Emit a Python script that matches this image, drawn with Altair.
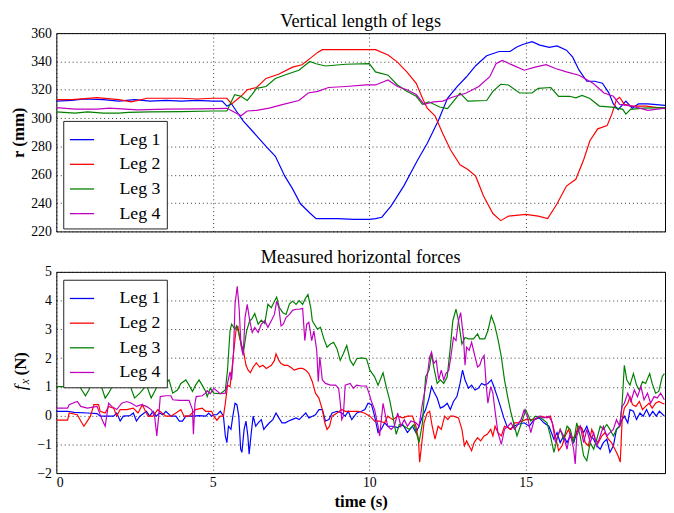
import altair as alt
import pandas as pd

FONT = "Liberation Serif"
LEGS = ["Leg 1", "Leg 2", "Leg 3", "Leg 4"]
COLORS = ["#0000ff", "#ff0000", "#008000", "#bf00bf"]
X_TICKS = [0, 5, 10, 15]
R_TICKS = [220, 240, 260, 280, 300, 320, 340, 360]
F_TICKS = [-2, -1, 0, 1, 2, 3, 4, 5]

# ---- vertical leg length r (mm): (time s, value) ----
R_LEG1 = [(0, 312), (0.5, 312.5), (0.9, 313.5), (1.5, 313), (2.0, 312), (2.5, 313), (3.0, 312),
          (3.5, 312.5), (4.0, 312), (4.5, 312.5), (5.0, 312), (5.3, 312), (5.45, 308.5), (5.6, 310),
          (5.75, 305), (5.97, 298), (6.3, 290), (6.7, 280), (7.0, 273), (7.3, 259), (7.55, 250),
          (7.8, 239.5), (8.1, 233), (8.3, 229), (9.0, 229), (9.5, 228.5), (10.0, 228.5), (10.2, 229),
          (10.4, 230), (10.7, 238), (11.1, 252), (11.55, 270.6), (11.85, 282), (12.2, 298), (12.5, 314),
          (12.8, 322), (13.1, 329), (13.4, 337), (13.75, 344), (14.15, 347), (14.5, 347), (14.7, 350),
          (14.9, 352), (15.2, 354), (15.45, 351.5), (15.75, 350), (16.0, 351), (16.3, 348), (16.5, 343),
          (16.7, 334), (16.95, 326), (17.2, 326), (17.45, 324.6), (17.65, 318), (17.8, 310), (17.95, 306),
          (18.2, 312), (18.4, 307), (18.6, 310), (18.9, 310), (19.45, 309)]
R_LEG2 = [(0, 313), (0.5, 313), (1.3, 314.5), (2.0, 313), (2.4, 311.5), (2.9, 314), (3.5, 314),
          (4.0, 314), (4.5, 313.5), (5.0, 314), (5.45, 314), (5.6, 310), (5.9, 315.4), (6.1, 320),
          (6.4, 321.6), (6.7, 328), (7.1, 331), (7.55, 336), (7.85, 337.7), (8.1, 342), (8.35, 346.4),
          (8.5, 348.3), (9.5, 348.3), (10.2, 348.3), (10.6, 344.6), (10.9, 339.5), (11.2, 332.6),
          (11.5, 324.6), (11.7, 314), (11.85, 307), (12.1, 301.6), (12.35, 289), (12.6, 277.5),
          (12.9, 267), (13.15, 263.7), (13.4, 259), (13.65, 245), (13.95, 232.6), (14.2, 227.6),
          (14.45, 230.8), (15.0, 232), (15.4, 230.8), (15.7, 229), (16.0, 239.5), (16.3, 252),
          (16.6, 256.8), (16.85, 270.6), (17.05, 284), (17.3, 292.4), (17.6, 294.7), (17.75, 302.8),
          (17.9, 313), (18.0, 314.7), (18.15, 309.7), (18.4, 308.5), (18.85, 308.5), (19.45, 306.7)]
R_LEG3 = [(0, 304.4), (0.6, 303.5), (1.0, 304.4), (1.5, 303.5), (2.0, 303.5), (2.3, 304), (3.0, 304.4),
          (4.0, 304.6), (5.0, 305), (5.45, 305), (5.6, 312), (5.7, 316.6), (5.9, 315.4), (6.1, 312.4),
          (6.25, 316.6), (6.4, 321), (6.7, 322.3), (7.0, 328), (7.35, 330.8), (7.75, 333.8), (8.1, 340),
          (8.3, 338.4), (8.6, 336.8), (9.25, 338), (10.0, 338.4), (10.2, 332.6), (10.6, 330.3),
          (10.9, 323.4), (11.2, 318.9), (11.5, 315.4), (11.7, 309.7), (11.9, 311.5), (12.25, 307.8),
          (12.5, 306.7), (12.65, 310.8), (12.9, 317.7), (13.15, 312), (13.75, 312.4), (13.95, 318.9),
          (14.2, 323.9), (14.45, 323.4), (14.8, 317.7), (15.2, 317.7), (15.4, 321), (15.8, 321.6),
          (16.05, 315.4), (16.4, 315.4), (16.6, 314.3), (16.8, 316), (17.05, 313.8), (17.35, 308.5),
          (17.75, 307.8), (18.1, 306.2), (18.2, 302.8), (18.35, 306.2), (18.75, 307), (19.45, 307.4)]
R_LEG4 = [(0, 307.4), (0.6, 306.3), (1.3, 306.3), (1.7, 307), (2.6, 305.8), (3.5, 306.3), (4.5, 306.5),
          (5.45, 306.9), (5.65, 304.6), (5.9, 301.6), (6.1, 305), (6.4, 305.5), (6.8, 307), (7.25, 309.7),
          (7.75, 312.4), (8.05, 317.7), (8.35, 318.9), (8.7, 321.6), (9.25, 322.3), (9.9, 323.4),
          (10.2, 323.4), (10.6, 326.9), (10.9, 322.3), (11.2, 320), (11.5, 316.6), (11.75, 309.7),
          (12.05, 311.5), (12.35, 312), (12.65, 314.7), (13.1, 317.7), (13.5, 322.3), (13.85, 329.2),
          (14.05, 338.4), (14.25, 340.7), (14.6, 337.2), (14.95, 333.8), (15.3, 336), (15.65, 337.7),
          (15.95, 335), (16.3, 332.6), (16.7, 330.3), (17.15, 324.6), (17.5, 317.7), (17.8, 315.4),
          (18.0, 309.7), (18.4, 308.5), (18.9, 305.5), (19.45, 307)]

# ---- horizontal force f_x (N): (time s, value) ----
F_LEG1 = [(0, 0.15), (0.36, 0.15), (0.57, 0.11), (0.99, 0.09), (1.3, 0.07), (1.4, -0.02), (1.51, -0.02),
          (1.62, -0.02), (1.83, -0.02), (1.93, 0.09), (2.04, -0.19), (2.14, -0.02), (2.35, 0.0), (2.46, 0.09),
          (2.56, -0.19), (2.67, -0.02), (2.88, 0.15), (2.98, -0.02), (3.09, 0.15), (3.19, -0.02), (3.3, 0.09),
          (3.4, 0.03), (3.5, 0.15), (3.66, -0.02), (3.82, -0.02), (3.93, -0.19), (4.03, -0.19), (4.14, -0.02),
          (4.35, -0.02), (4.56, 0.0), (4.77, -0.02), (4.87, 0.09), (4.96, -0.02), (5.03, 0.03), (5.13, 0.03),
          (5.24, 0.15), (5.34, -0.02), (5.4, -0.71), (5.45, -0.94), (5.5, -0.37), (5.58, -0.48), (5.64, -0.02),
          (5.71, 0.43), (5.77, 0.38), (5.83, -0.02), (5.89, -1.17), (5.93, -1.28), (6.0, -0.48), (6.06, -0.19),
          (6.12, -0.71), (6.16, -1.34), (6.23, -0.59), (6.29, -0.02), (6.37, -0.37), (6.45, -0.25), (6.55, -0.14),
          (6.63, -0.48), (6.71, -0.37), (6.81, -0.25), (6.92, -0.14), (7.02, 0.09), (7.11, -0.08), (7.21, -0.25),
          (7.32, -0.25), (7.42, -0.19), (7.53, -0.14), (7.66, -0.08), (7.76, -0.14), (7.87, -0.02), (7.97, 0.09),
          (8.07, -0.08), (8.18, -0.02), (8.28, 0.03), (8.39, 0.21), (8.5, 0.21), (8.6, -0.19), (8.71, -0.14),
          (8.81, 0.09), (8.97, 0.15), (9.12, 0.09), (9.23, -0.02), (9.33, 0.15), (9.44, -0.14), (9.6, 0.09),
          (9.75, 0.15), (9.86, 0.21), (9.96, 0.43), (10.07, 0.38), (10.17, -0.02), (10.28, -0.59), (10.38, -0.48),
          (10.49, -0.25), (10.59, -0.37), (10.75, -0.37), (10.91, -0.42), (11.07, -0.31), (11.22, -0.59),
          (11.38, -0.37), (11.49, -0.59), (11.59, -0.37), (11.7, -0.02), (11.8, 0.21), (11.91, 0.61), (11.99, 1.01),
          (12.06, 0.84), (12.17, 0.61), (12.27, 0.26), (12.38, 0.32), (12.49, 0.43), (12.59, 0.21), (12.69, 0.49),
          (12.8, 0.66), (12.9, 1.12), (12.98, 1.58), (13.06, 1.24), (13.17, 0.95), (13.27, 1.06), (13.38, 0.89),
          (13.48, 0.95), (13.59, 1.12), (13.69, 1.06), (13.79, 1.12), (13.9, 1.24), (13.98, 1.01), (14.09, 0.66),
          (14.19, 0.32), (14.3, -0.08), (14.4, -0.37), (14.51, -0.48), (14.61, -0.37), (14.74, -0.31),
          (14.95, -0.25), (15.11, -0.37), (15.27, -0.14), (15.43, -0.08), (15.58, -0.25), (15.74, -0.37),
          (15.9, -0.82), (16.0, -0.59), (16.1, -0.94), (16.21, -0.71), (16.32, -0.94), (16.42, -0.71),
          (16.53, -0.94), (16.63, -0.59), (16.74, -0.37), (16.85, -0.59), (16.95, -0.37), (17.06, -0.71),
          (17.17, -0.82), (17.27, -1.05), (17.38, -1.17), (17.48, -0.94), (17.59, -0.82), (17.69, -1.28),
          (17.8, -1.05), (17.9, -0.48), (18.0, -0.37), (18.08, -0.14), (18.15, -0.02), (18.26, -0.25),
          (18.33, 0.21), (18.44, 0.15), (18.54, -0.14), (18.65, 0.09), (18.75, -0.02), (18.86, 0.21),
          (18.96, -0.02), (19.06, 0.15), (19.17, -0.02), (19.27, 0.15), (19.43, -0.02)]
F_LEG2 = [(0, -0.16), (0.36, -0.16), (0.41, 0.09), (0.67, 0.03), (0.78, -0.19), (0.88, -0.37), (0.99, -0.19),
          (1.09, -0.02), (1.2, 0.38), (1.35, 0.38), (1.4, 0.15), (1.56, 0.09), (1.67, 0.32), (1.83, 0.26),
          (1.93, -0.02), (2.04, 0.21), (2.25, 0.21), (2.46, 0.26), (2.61, 0.09), (2.75, 0.38), (2.82, 0.21),
          (2.93, -0.02), (3.09, -0.02), (3.24, 0.21), (3.5, -0.02), (3.66, -0.02), (3.82, 0.09), (3.98, 0.21),
          (4.08, -0.02), (4.24, -0.02), (4.45, 0.21), (4.66, 0.26), (4.77, 0.15), (4.96, 0.15), (5.03, -0.02),
          (5.13, -0.16), (5.24, -0.02), (5.34, -0.02), (5.4, 0.43), (5.47, 1.06), (5.55, 1.01), (5.6, 1.46),
          (5.66, 2.15), (5.74, 2.95), (5.8, 3.12), (5.85, 2.72), (5.92, 2.44), (5.97, 2.32), (6.06, 1.75),
          (6.13, 1.58), (6.2, 1.49), (6.29, 1.69), (6.39, 1.83), (6.5, 1.69), (6.6, 1.75), (6.71, 1.64),
          (6.87, 1.75), (6.97, 1.92), (7.02, 2.15), (7.11, 1.92), (7.18, 1.81), (7.29, 1.75), (7.39, 1.75),
          (7.5, 1.67), (7.6, 1.58), (7.76, 1.64), (7.87, 1.64), (7.97, 1.58), (8.07, 1.46), (8.18, 1.18),
          (8.28, 0.78), (8.39, 0.61), (8.5, 0.21), (8.58, -0.25), (8.65, -0.48), (8.73, -0.37), (8.81, -0.02),
          (8.97, 0.09), (9.12, 0.21), (9.23, 0.15), (9.44, 0.15), (9.65, 0.15), (9.84, 0.09), (10.02, -0.02),
          (10.17, -0.19), (10.33, -0.19), (10.49, -0.25), (10.59, -0.02), (10.75, -0.14), (10.91, -0.02),
          (11.07, -0.08), (11.22, -0.02), (11.38, -0.02), (11.49, -0.37), (11.57, -0.82), (11.61, -1.62),
          (11.68, -0.94), (11.75, -0.25), (11.85, 0.09), (11.93, 0.15), (12.01, -0.37), (12.1, -0.82),
          (12.2, -0.37), (12.3, -0.48), (12.41, -0.02), (12.51, -0.14), (12.59, -0.02), (12.69, -0.02),
          (12.85, -0.08), (12.96, -0.48), (13.04, -1.05), (13.11, -0.88), (13.19, -1.05), (13.27, -1.22),
          (13.35, -0.94), (13.46, -0.77), (13.56, -0.88), (13.67, -0.71), (13.77, -0.65), (13.88, -0.48),
          (13.95, -0.71), (14.02, -0.37), (14.11, -0.59), (14.22, -0.71), (14.32, -0.37), (14.43, -0.42),
          (14.53, -0.48), (14.64, -0.25), (14.74, -0.25), (15.0, -0.14), (15.27, -0.14), (15.48, -0.02),
          (15.68, -0.08), (15.79, -0.02), (15.9, -0.48), (16.05, -1.22), (16.16, -1.05), (16.26, -0.71),
          (16.37, -0.48), (16.47, -0.82), (16.58, -0.71), (16.68, -0.37), (16.79, -0.42), (16.9, -0.94),
          (17.0, -1.05), (17.11, -0.48), (17.22, -0.82), (17.32, -0.94), (17.43, -0.71), (17.53, -0.59),
          (17.64, -0.82), (17.74, -0.94), (17.85, -1.17), (17.95, -1.4), (18.02, -1.62), (18.08, -0.14),
          (18.15, 0.26), (18.26, 0.43), (18.33, 0.66), (18.41, 0.38), (18.52, 0.32), (18.63, 0.49),
          (18.73, 0.21), (18.83, 0.32), (18.94, 0.43), (19.04, 0.26), (19.15, 0.43), (19.25, 0.49),
          (19.36, 0.43), (19.43, 0.41)]
F_LEG3 = [(0, 1.01), (0.36, 1.01), (0.45, 1.15), (0.6, 1.2), (0.78, 0.95), (0.93, 0.69), (1.04, 0.89),
          (1.14, 1.15), (1.3, 1.2), (1.46, 0.95), (1.56, 0.61), (1.67, 0.78), (1.83, 1.1), (1.93, 1.12),
          (2.1, 1.2), (2.35, 1.06), (2.5, 0.61), (2.67, 0.78), (2.88, 1.06), (3.03, 0.61), (3.14, 0.84),
          (3.24, 1.06), (3.5, 1.14), (3.6, 1.24), (3.72, 0.78), (3.87, 0.89), (3.98, 1.12), (4.14, 1.24),
          (4.24, 1.06), (4.35, 0.84), (4.45, 1.06), (4.56, 1.24), (4.66, 1.06), (4.77, 0.84), (4.82, 0.66),
          (4.92, 0.95), (5.03, 0.78), (5.24, 0.76), (5.4, 0.89), (5.47, 1.58), (5.55, 2.95), (5.6, 3.18),
          (5.71, 3.01), (5.76, 3.12), (5.87, 2.72), (5.97, 2.15), (6.08, 2.95), (6.18, 3.3), (6.24, 3.35),
          (6.34, 3.55), (6.45, 3.18), (6.55, 3.32), (6.66, 3.2), (6.76, 3.87), (6.87, 3.75), (6.97, 3.98),
          (7.04, 4.12), (7.13, 3.75), (7.24, 3.58), (7.34, 3.52), (7.45, 3.89), (7.55, 3.98), (7.66, 3.87),
          (7.76, 4.0), (7.87, 3.87), (7.97, 4.1), (8.04, 4.21), (8.13, 3.75), (8.18, 3.3), (8.34, 3.01),
          (8.44, 3.07), (8.55, 2.67), (8.65, 2.38), (8.76, 2.49), (8.86, 2.55), (8.97, 2.32), (9.07, 1.92),
          (9.17, 2.15), (9.28, 2.44), (9.39, 1.92), (9.49, 1.75), (9.6, 1.98), (9.75, 2.01), (9.91, 1.98),
          (10.02, 1.58), (10.17, 1.35), (10.28, 1.06), (10.44, 1.49), (10.54, 1.01), (10.65, 0.55),
          (10.75, 0.0), (10.86, -0.65), (10.96, -0.31), (11.12, -0.37), (11.28, -0.48), (11.43, -0.31),
          (11.59, -0.94), (11.7, -0.25), (11.8, 1.35), (11.91, 1.58), (11.99, 2.15), (12.06, 1.69),
          (12.17, 1.12), (12.27, 1.24), (12.38, 1.12), (12.49, 1.35), (12.59, 2.38), (12.67, 3.3),
          (12.77, 3.7), (12.85, 3.3), (12.96, 2.49), (13.06, 2.72), (13.17, 2.67), (13.33, 2.67),
          (13.46, 2.84), (13.53, 2.67), (13.69, 2.67), (13.79, 2.95), (13.9, 3.47), (14.0, 3.18),
          (14.11, 2.67), (14.22, 2.04), (14.32, 1.24), (14.43, 0.61), (14.53, 0.09), (14.64, -0.37),
          (14.72, -0.71), (14.85, -0.3), (15.0, 0.2), (15.16, -0.19), (15.32, -0.02), (15.48, -0.08),
          (15.68, -0.25), (15.79, -0.71), (15.9, -1.28), (16.0, -0.82), (16.1, -0.48), (16.21, -0.82),
          (16.32, -0.37), (16.42, -0.48), (16.53, -0.94), (16.63, -0.25), (16.74, -0.71), (16.85, -1.4),
          (16.95, -1.57), (17.06, -0.94), (17.17, -1.17), (17.27, -0.82), (17.38, -0.37), (17.48, -0.48),
          (17.59, -0.31), (17.69, -0.48), (17.8, -0.71), (17.9, -0.48), (18.0, -0.37), (18.08, 0.43),
          (18.15, 1.75), (18.23, 1.24), (18.33, 1.06), (18.44, 1.46), (18.54, 1.06), (18.63, 0.89),
          (18.73, 1.18), (18.83, 1.12), (18.96, 1.46), (19.04, 1.12), (19.15, 0.78), (19.25, 0.84),
          (19.36, 1.35), (19.43, 1.46)]
F_LEG4 = [(0, 0.26), (0.36, 0.26), (0.41, 0.38), (0.52, 0.43), (0.67, 0.49), (0.78, 0.32), (0.99, 0.26),
          (1.3, 0.32), (1.46, -0.14), (1.56, -0.37), (1.67, 0.43), (1.77, 0.32), (1.93, 0.21), (2.09, 0.43),
          (2.25, 0.49), (2.4, 0.43), (2.56, 0.32), (2.72, 0.38), (2.88, 0.32), (3.03, 0.21), (3.14, -0.02),
          (3.21, -0.71), (3.28, 0.09), (3.32, 0.66), (3.5, 0.69), (3.66, 0.69), (3.72, 0.55), (3.93, 0.53),
          (4.24, 0.53), (4.35, 0.21), (4.38, -0.65), (4.43, 0.43), (4.47, 0.66), (4.66, 0.69), (4.77, 0.78),
          (4.82, 0.87), (4.92, 0.76), (5.03, 0.95), (5.24, 0.76), (5.4, 0.78), (5.47, 1.12), (5.55, 1.52),
          (5.6, 1.24), (5.66, 2.15), (5.71, 3.87), (5.78, 4.5), (5.84, 3.75), (5.9, 2.44), (5.97, 2.09),
          (6.03, 3.41), (6.1, 3.87), (6.18, 3.3), (6.26, 2.89), (6.34, 3.07), (6.45, 2.89), (6.55, 3.18),
          (6.66, 3.3), (6.76, 3.07), (6.87, 3.3), (6.97, 3.52), (7.04, 3.98), (7.11, 3.75), (7.18, 3.12),
          (7.25, 3.18), (7.34, 3.41), (7.45, 3.52), (7.55, 3.66), (7.66, 3.7), (7.76, 3.7), (7.87, 3.73),
          (7.94, 2.61), (8.0, 3.18), (8.07, 3.24), (8.16, 2.61), (8.23, 2.95), (8.32, 2.27), (8.37, 1.18),
          (8.42, 2.04), (8.5, 1.24), (8.6, 1.12), (8.76, 1.06), (8.92, 1.06), (9.02, 0.95), (9.07, 0.49),
          (9.12, -0.14), (9.17, -0.02), (9.23, 1.06), (9.39, 1.12), (9.49, 0.95), (9.6, 1.06), (9.75, 1.03),
          (9.91, 1.03), (9.99, 0.78), (10.07, 0.49), (10.17, 0.21), (10.28, -0.37), (10.33, -0.71),
          (10.44, 0.43), (10.52, -0.02), (10.59, -0.37), (10.7, -0.48), (10.8, -0.37), (10.91, 0.09),
          (11.01, -0.37), (11.12, -0.14), (11.22, -0.37), (11.33, -0.19), (11.49, -0.25), (11.59, -0.37),
          (11.7, 0.43), (11.78, 0.89), (11.85, 1.35), (11.93, 2.04), (11.99, 2.21), (12.06, 1.81),
          (12.14, 1.92), (12.22, 1.24), (12.3, 1.58), (12.38, 1.24), (12.45, 1.46), (12.54, 1.58),
          (12.62, 2.15), (12.69, 2.72), (12.77, 2.61), (12.85, 3.3), (12.92, 3.58), (13.01, 2.72),
          (13.06, 1.75), (13.11, 2.38), (13.19, 2.27), (13.27, 2.55), (13.38, 2.04), (13.46, 1.69),
          (13.53, 1.75), (13.6, 1.98), (13.67, 2.09), (13.74, 1.01), (13.79, 0.43), (13.88, 1.01),
          (13.95, 0.78), (14.0, 0.32), (14.11, -0.59), (14.22, -1.0), (14.32, -0.48), (14.43, -0.37),
          (14.53, -0.25), (14.64, -0.48), (14.85, -0.14), (14.95, 0.2), (15.05, -0.02), (15.16, -0.59),
          (15.27, -0.14), (15.43, -0.02), (15.58, -0.08), (15.74, -0.02), (15.85, -0.25), (15.95, -0.94),
          (16.1, -0.48), (16.21, -0.71), (16.32, -1.17), (16.42, -0.59), (16.53, -1.17), (16.58, -1.68),
          (16.63, -0.71), (16.74, -0.37), (16.85, -0.94), (16.95, -0.48), (17.06, -0.94), (17.17, -0.59),
          (17.27, -1.05), (17.38, -0.71), (17.48, -0.37), (17.59, -0.71), (17.69, -0.59), (17.8, -0.48),
          (17.9, -0.14), (18.0, -0.37), (18.08, 0.32), (18.15, 0.43), (18.26, 0.78), (18.36, 0.49),
          (18.47, 0.89), (18.57, 0.66), (18.68, 1.01), (18.78, 0.55), (18.89, 0.78), (18.99, 0.43),
          (19.1, 0.66), (19.2, 0.61), (19.31, 0.78), (19.43, 0.55)]


def long_frame(series_list):
    rows = []
    for leg, series in zip(LEGS, series_list):
        for t, v in series:
            rows.append({"t": t, "v": v, "leg": leg})
    return pd.DataFrame(rows)


df_r = long_frame([R_LEG1, R_LEG2, R_LEG3, R_LEG4])
df_f = long_frame([F_LEG1, F_LEG2, F_LEG3, F_LEG4])
one = pd.DataFrame({"k": [0]})

W = 617
H_TOP, H_BOT = 201, 204
x_scale = alt.Scale(domain=[0, 19.45], nice=False, zero=False)


def legend(ly):
    return alt.Legend(title=None, orient="none", legendX=7, legendY=ly, fillColor="white",
                      strokeColor="#222222", padding=6,
                      symbolType="stroke", symbolSize=600, symbolStrokeWidth=1.3,
                      labelFont=FONT, labelFontSize=18, labelColor="black", labelOffset=25,
                      rowPadding=3)


color_top = alt.Color("leg:N", scale=alt.Scale(domain=LEGS, range=COLORS), legend=legend(89))
color_bot = alt.Color("leg:N", scale=alt.Scale(domain=LEGS, range=COLORS), legend=legend(8))

top = alt.Chart(df_r).mark_line(strokeWidth=1.2, clip=True).encode(
    x=alt.X("t:Q", scale=x_scale,
            axis=alt.Axis(values=X_TICKS, labels=False, ticks=False, domain=False, title=None, grid=True)),
    y=alt.Y("v:Q", scale=alt.Scale(domain=[220, 360], nice=False, zero=False),
            axis=alt.Axis(values=R_TICKS, title="r (mm)", grid=True, domain=False, ticks=False,
                          labelPadding=5, titlePadding=3)),
    color=color_top,
).properties(width=W, height=H_TOP,
             title=alt.TitleParams("Vertical length of legs", font=FONT, fontSize=18.5, frame="group",
                                   fontWeight="normal", color="black", offset=-4))

lines_bot = alt.Chart(df_f).mark_line(strokeWidth=1.2, clip=True).encode(
    x=alt.X("t:Q", scale=x_scale,
            axis=alt.Axis(values=X_TICKS, title="time (s)", grid=True, domain=False, ticks=False,
                          labelPadding=3, titlePadding=4)),
    y=alt.Y("v:Q", scale=alt.Scale(domain=[-2, 5], nice=False, zero=False),
            axis=alt.Axis(values=F_TICKS, title=None, grid=True, domain=False, ticks=False,
                          labelPadding=5)),
    color=color_bot,
)

ylab_f = alt.Chart(one).mark_text(text="f", font=FONT, fontSize=18, fontStyle="italic", angle=270,
                                  align="left", baseline="alphabetic", color="black").encode(
    x=alt.value(-31), y=alt.value(120))
ylab_x = alt.Chart(one).mark_text(text="x", font=FONT, fontSize=12, fontStyle="italic", angle=270,
                                  align="left", baseline="alphabetic", color="black").encode(
    x=alt.value(-28), y=alt.value(114))
ylab_n = alt.Chart(one).mark_text(text="(N)", font=FONT, fontSize=17, fontWeight="bold", angle=270,
                                  align="left", baseline="alphabetic", color="black").encode(
    x=alt.value(-31), y=alt.value(105))

bottom = alt.layer(lines_bot, ylab_f, ylab_x, ylab_n).properties(
    width=W, height=H_BOT,
    title=alt.TitleParams("Measured horizontal forces", font=FONT, fontSize=18.5, frame="group",
                          fontWeight="normal", color="black", offset=-1.5))

chart = alt.vconcat(top, bottom, spacing=8).resolve_scale(color="independent").resolve_legend(
    color="independent").properties(
    padding={"left": 1, "top": 0, "right": 0, "bottom": 0}
).configure_view(stroke="black", strokeWidth=1).configure_axis(
    gridColor="black", gridDash=[1, 3], gridWidth=0.8, gridOpacity=1,
    labelFont=FONT, labelFontSize=14, labelColor="black",
    titleFont=FONT, titleFontSize=17, titleColor="black", titleFontWeight="bold"
).configure_title(anchor="middle")

chart.save("out.html", embed_options={"renderer": "svg", "actions": False})
